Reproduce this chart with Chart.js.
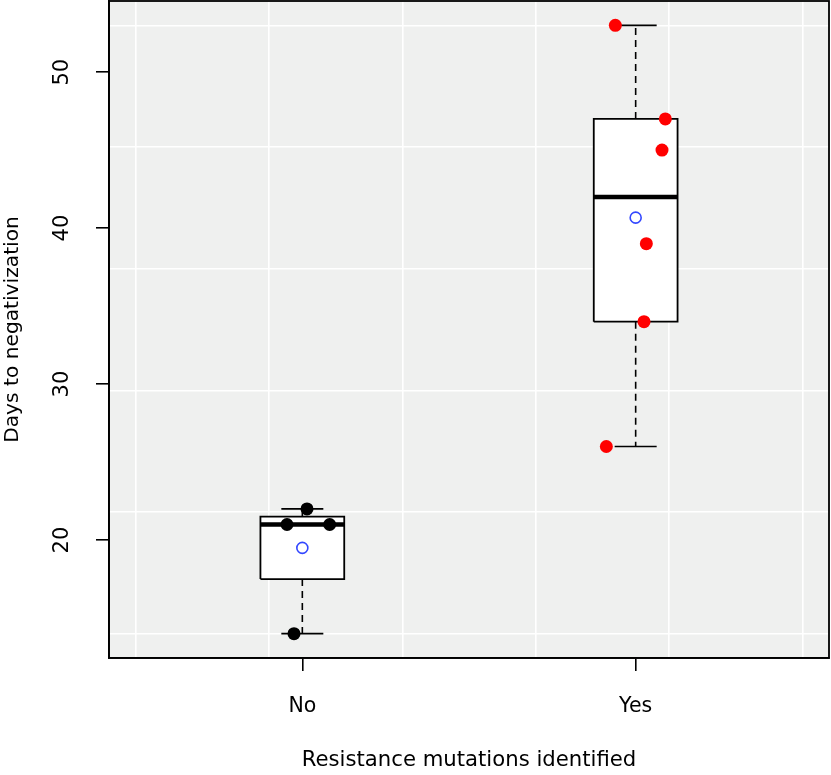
<!DOCTYPE html>
<html>
<head>
<meta charset="utf-8">
<script src="https://cdn.jsdelivr.net/npm/chart.js@4/dist/chart.umd.min.js"></script>
<style>
  html, body { margin: 0; padding: 0; background: #ffffff; }
  canvas { display: block; }
</style>
</head>
<body>
<canvas id="c" width="831" height="775"></canvas>
<script>
// ---- data ----
const categories = ['No', 'Yes'];
const categoryPos = [1, 2];
const noValues = [14, 21, 22, 21];
const noJitterX = [0.975, 0.954, 1.014, 1.082];
const yesValues = [53, 47, 45, 39, 34, 26];
const yesJitterX = [1.939, 2.089, 2.079, 2.032, 2.025, 1.912];
const whiskerLow = [14, 26];
const boxLower = [17.5, 34];
const boxMedian = [21, 42];
const boxUpper = [21.5, 47];
const whiskerHigh = [22, 53];
const groupMeans = [19.5, 40.67];
const yTickValues = [20, 30, 40, 50];
const gridXValues = [0.5, 0.9, 1.3, 1.7, 2.1, 2.5];
const gridYValues = [14, 21.8, 29.6, 37.4, 45.2, 53];

// ---- layout/style constants ----
const X_MIN = 0.42, X_MAX = 2.58, Y_MIN = 12.44, Y_MAX = 54.56;
const BOX_HALF = 0.1257, CAP_HALF = 0.063;
const FONT = 'DejaVu Sans';

function boxPolygon(i) {
  const c = categoryPos[i];
  return [
    {x: c - BOX_HALF, y: boxLower[i]}, {x: c + BOX_HALF, y: boxLower[i]},
    {x: c + BOX_HALF, y: boxUpper[i]}, {x: c - BOX_HALF, y: boxUpper[i]},
    {x: c - BOX_HALF, y: boxLower[i]}
  ];
}
const boxDatasets = categoryPos.map((c, i) => ({
  label: 'box' + i, data: boxPolygon(i), showLine: true, fill: 'shape',
  backgroundColor: '#ffffff', borderColor: '#000000', borderWidth: 1.8,
  pointRadius: 0, tension: 0, order: 5
}));
const whiskerData = [];
const capData = [];
const medianData = [];
categoryPos.forEach((c, i) => {
  whiskerData.push({x: c, y: boxLower[i]}, {x: c, y: whiskerLow[i]}, {x: c, y: null});
  whiskerData.push({x: c, y: boxUpper[i]}, {x: c, y: whiskerHigh[i]}, {x: c, y: null});
  capData.push({x: c - CAP_HALF, y: whiskerLow[i]}, {x: c + CAP_HALF, y: whiskerLow[i]}, {x: c, y: null});
  capData.push({x: c - CAP_HALF, y: whiskerHigh[i]}, {x: c + CAP_HALF, y: whiskerHigh[i]}, {x: c, y: null});
  medianData.push({x: c - BOX_HALF, y: boxMedian[i]}, {x: c + BOX_HALF, y: boxMedian[i]}, {x: c, y: null});
});

const bgPlugin = {
  id: 'bg',
  beforeDraw(chart) {
    const a = chart.chartArea, ctx = chart.ctx;
    ctx.save();
    ctx.fillStyle = '#eff0ef';
    ctx.fillRect(a.left, a.top, a.right - a.left, a.bottom - a.top);
    ctx.restore();
  },
  afterDraw(chart) {
    const a = chart.chartArea, ctx = chart.ctx;
    ctx.save();
    ctx.strokeStyle = '#000000';
    ctx.lineWidth = 1.8;
    ctx.strokeRect(a.left, a.top, a.right - a.left, a.bottom - a.top);
    ctx.restore();
  }
};

function noPad(s) { s.paddingTop = 0; s.paddingBottom = 0; s.paddingLeft = 0; s.paddingRight = 0; }

new Chart(document.getElementById('c'), {
  type: 'scatter',
  plugins: [bgPlugin],
  data: {
    datasets: [
      ...boxDatasets,
      { label: 'whiskers', data: whiskerData, showLine: true, spanGaps: false,
        borderColor: '#000000', borderWidth: 1.6, borderDash: [7, 5], pointRadius: 0, order: 4 },
      { label: 'caps', data: capData, showLine: true, spanGaps: false,
        borderColor: '#000000', borderWidth: 1.6, pointRadius: 0, order: 4 },
      { label: 'median', data: medianData, showLine: true, spanGaps: false,
        borderColor: '#000000', borderWidth: 4.5, borderCapStyle: 'butt', pointRadius: 0, order: 3 },
      { label: 'No', data: noValues.map((v, k) => ({x: noJitterX[k], y: v})),
        pointRadius: 6.5, pointBackgroundColor: '#000000', pointBorderWidth: 0, order: 1 },
      { label: 'Yes', data: yesValues.map((v, k) => ({x: yesJitterX[k], y: v})),
        pointRadius: 6.5, pointBackgroundColor: '#ff0000', pointBorderWidth: 0, order: 1 },
      { label: 'mean', data: groupMeans.map((m, i) => ({x: categoryPos[i], y: m})),
        pointRadius: 5.5, pointBackgroundColor: 'rgba(0,0,0,0)', pointBorderColor: '#3347ff',
        pointBorderWidth: 1.6, order: 2 }
    ]
  },
  options: {
    responsive: false,
    animation: false,
    events: [],
    layout: { autoPadding: false, padding: { top: 1, right: 2, left: 0, bottom: 0 } },
    plugins: { legend: { display: false }, tooltip: { enabled: false } },
    scales: {
      x: {
        type: 'linear', position: 'bottom', min: X_MIN, max: X_MAX,
        afterBuildTicks(s) { s.ticks = categoryPos.map(v => ({value: v})); },
        afterFit(s) { s.height = 117; noPad(s); },
        ticks: {
          callback: (v) => categories[categoryPos.indexOf(v)] ?? '',
          color: '#000000', font: { family: FONT, size: 20.5 }, padding: 23,
          maxRotation: 0, minRotation: 0, autoSkip: false
        },
        grid: { drawOnChartArea: false, drawTicks: true, tickLength: 13, color: '#000000', lineWidth: 1.6 },
        border: { display: true, color: '#000000', width: 1.8 },
        title: { display: true, text: 'Resistance mutations identified', color: '#000000',
          font: { family: FONT, size: 21.2 }, padding: { top: 0, bottom: 2 } }
      },
      y: {
        type: 'linear', position: 'left', min: Y_MIN, max: Y_MAX,
        afterBuildTicks(s) { s.ticks = yTickValues.map(v => ({value: v})); },
        afterFit(s) { s.width = 109; noPad(s); },
        ticks: {
          color: '#000000', font: { family: FONT, size: 21 }, padding: 20,
          minRotation: 90, maxRotation: 90, crossAlign: 'center', autoSkip: false
        },
        grid: { drawOnChartArea: false, drawTicks: true, tickLength: 13, color: '#000000', lineWidth: 1.6 },
        border: { display: true, color: '#000000', width: 1.8 },
        title: { display: true, text: 'Days to negativization', color: '#000000',
          font: { family: FONT, size: 20.2 }, padding: { top: 1, bottom: 0 } }
      },
      gx: {
        type: 'linear', position: 'bottom', min: X_MIN, max: X_MAX,
        afterBuildTicks(s) { s.ticks = gridXValues.map(v => ({value: v})); },
        afterFit(s) { s.height = 0; noPad(s); },
        ticks: { display: false },
        grid: { drawTicks: false, color: '#ffffff', lineWidth: 1.6 },
        border: { display: false }
      },
      gy: {
        type: 'linear', position: 'left', min: Y_MIN, max: Y_MAX,
        afterBuildTicks(s) { s.ticks = gridYValues.map(v => ({value: v})); },
        afterFit(s) { s.width = 0; noPad(s); },
        ticks: { display: false },
        grid: { drawTicks: false, color: '#ffffff', lineWidth: 1.6 },
        border: { display: false }
      }
    }
  }
});
</script>
</body>
</html>
